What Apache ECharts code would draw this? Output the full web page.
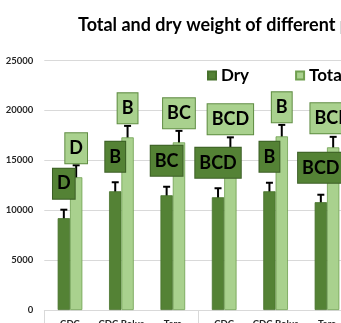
<!DOCTYPE html>
<html>
<head>
<meta charset="utf-8">
<script src="https://cdn.jsdelivr.net/npm/echarts@6/dist/echarts.min.js"></script>
<style>
  html, body { margin: 0; padding: 0; background: #ffffff; }
  #chart { width: 341px; height: 323px; }
</style>
</head>
<body>
<div id="chart"></div>
<script>
// Varieties on the category axis (two trial groups of three)
const categories = ['CDC', 'CDC Bolus', 'Tera', 'CDC', 'CDC Bolus', 'Tera'];

// Dry weight: means, error (±) and significance letters
const dryValues = [9200, 11900, 11500, 11300, 11900, 10800];
const dryErrors = [850, 900, 850, 900, 850, 750];
const dryLetters = ['D', 'B', 'BC', 'BCD', 'B', 'BCD'];

// Total weight: means, error (±) and significance letters
const totalValues = [13300, 17300, 16800, 16200, 17400, 16300];
const totalErrors = [1200, 1150, 1150, 1100, 1150, 1050];
const totalLetters = ['D', 'B', 'BC', 'BCD', 'B', 'BCD'];

// Value-axis ticks
const yTicks = [0, 5000, 10000, 15000, 20000, 25000];

const DARK = '#548235';
const LIGHT = '#A9D18E';
const BAR_SHARE = 0.24; // bar width as a share of one category band
const FONT = 'Lato, "Liberation Sans", sans-serif';

const chart = echarts.init(document.getElementById('chart'), null, { renderer: 'canvas' });

// Error bars drawn through the category/value scales; side -1 = dry, +1 = total
function errorBarRenderer(side) {
  return function (params, api) {
    const idx = api.value(0);
    const v = api.value(1);
    const e = api.value(2);
    const band = api.size([1, 0])[0];
    const dx = side * band * BAR_SHARE / 2;
    const hi = api.coord([idx, v + e]);
    const lo = api.coord([idx, v - e]);
    const x = hi[0] + dx;
    const cap = 3.5;
    const style = { stroke: '#000000', lineWidth: 2 };
    return {
      type: 'group',
      children: [
        { type: 'line', shape: { x1: x, y1: hi[1], x2: x, y2: lo[1] }, style: style },
        { type: 'line', shape: { x1: x - cap, y1: hi[1], x2: x + cap, y2: hi[1] }, style: style },
        { type: 'line', shape: { x1: x - cap, y1: lo[1], x2: x + cap, y2: lo[1] }, style: style }
      ]
    };
  };
}

function letterLabel(letters, fill, border, distance) {
  return {
    show: true,
    position: 'top',
    distance: distance,
    formatter: function (p) { return letters[p.dataIndex]; },
    color: '#000000',
    fontFamily: FONT,
    fontWeight: 'bold',
    fontSize: 18,
    lineHeight: 18,
    backgroundColor: fill,
    borderColor: border,
    borderWidth: 1,
    padding: [6, 4, 6, 4]
  };
}

const option = {
  animation: false,
  backgroundColor: '#ffffff',
  title: {
    text: 'Total and dry weight of different plants',
    left: 73,
    top: 11,
    textStyle: { fontFamily: FONT, fontWeight: 'bold', fontSize: 18, color: '#000000' }
  },
  legend: {
    left: 202,
    top: 62,
    width: 300,
    icon: 'rect',
    itemWidth: 8,
    itemHeight: 8,
    itemGap: 46,
    data: ['Dry', 'Total'],
    textStyle: { fontFamily: FONT, fontWeight: 'bold', fontSize: 17, color: '#000000' }
  },
  grid: {
    left: 44.3, top: 60.5, width: 308.4, height: 249.5,
    containLabel: false, outerBoundsMode: 'none'
  },
  xAxis: {
    type: 'category',
    data: categories,
    boundaryGap: true,
    axisLine: { show: true, lineStyle: { color: '#d9d9d9', width: 1 } },
    axisTick: {
      show: true,
      interval: function (i) { return i % 3 === 0; },
      length: 16,
      lineStyle: { color: '#d9d9d9', width: 1 }
    },
    axisLabel: {
      interval: 0,
      margin: 9,
      fontFamily: FONT,
      fontWeight: 'bold',
      fontSize: 9.5,
      color: '#262626'
    },
    splitLine: { show: false }
  },
  yAxis: {
    type: 'value',
    min: yTicks[0],
    max: yTicks[yTicks.length - 1],
    interval: yTicks[1] - yTicks[0],
    name: 'Weight per plant (g)',
    nameLocation: 'middle',
    nameRotate: 90,
    nameGap: 47,
    nameMoveOverlap: false,
    nameTextStyle: { fontFamily: FONT, fontWeight: 'bold', fontSize: 12, color: '#9a9a9a' },
    axisLine: { show: false },
    axisTick: { show: false },
    axisLabel: {
      margin: 11,
      formatter: function (v) { return String(v); },
      fontFamily: FONT,
      fontWeight: 'bold',
      fontSize: 9.5,
      color: '#262626'
    },
    splitLine: { show: true, lineStyle: { color: '#d9d9d9', width: 1 } }
  },
  series: [
    {
      name: 'Dry',
      type: 'bar',
      data: dryValues,
      barWidth: (BAR_SHARE * 100) + '%',
      barGap: '0%',
      itemStyle: { color: DARK, borderColor: '#47722c', borderWidth: 0.8 },
      label: letterLabel(dryLetters, DARK, '#3b5e25', 19.5),
      z: 2
    },
    {
      name: 'Total',
      type: 'bar',
      data: totalValues,
      barWidth: (BAR_SHARE * 100) + '%',
      barGap: '0%',
      itemStyle: { color: LIGHT, borderColor: '#6f9f4f', borderWidth: 0.8 },
      label: letterLabel(totalLetters, LIGHT, '#5f8c42', 14),
      z: 2
    },
    {
      type: 'custom',
      renderItem: errorBarRenderer(-1),
      data: dryValues.map(function (v, i) { return [i, v, dryErrors[i]]; }),
      encode: { x: 0, y: 1 },
      silent: true,
      z: 2
    },
    {
      type: 'custom',
      renderItem: errorBarRenderer(1),
      data: totalValues.map(function (v, i) { return [i, v, totalErrors[i]]; }),
      encode: { x: 0, y: 1 },
      silent: true,
      z: 2
    }
  ]
};

chart.setOption(option);
</script>
</body>
</html>
